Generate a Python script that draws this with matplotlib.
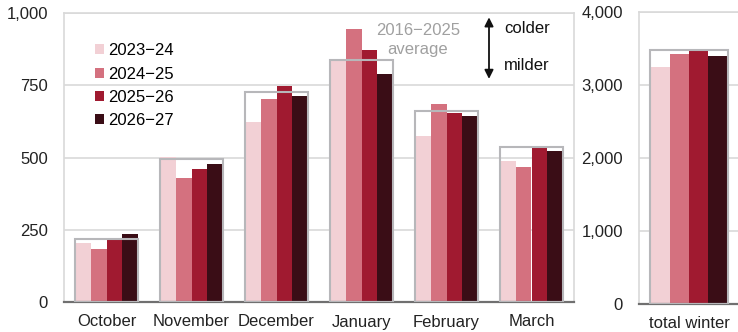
import matplotlib
matplotlib.use("Agg")
import matplotlib.pyplot as plt
import numpy as np

plt.rcParams['font.family'] = ['Liberation Sans', 'DejaVu Sans']

months = ["October", "November", "December", "January", "February", "March"]
seasons = ["2023\u221224", "2024\u221225", "2025\u221226", "2026\u221227"]
s2023 = [204, 503, 623, 836, 574, 488]
s2024 = [183, 428, 702, 945, 684, 468]
s2025 = [214, 460, 747, 871, 654, 532]
s2026 = [234, 476, 712, 789, 642, 524]
avg_monthly = [218, 494, 726, 836, 660, 537]
total_winter = [3242, 3425, 3461, 3397]
avg_total = 3479
left_ticks = [0, 250, 500, 750, 1000]
right_ticks = [0, 1000, 2000, 3000, 4000]

colors = ["#F2D0D5", "#D4717F", "#A01A30", "#3A0D16"]
box_color = "#B7B7BA"
grid_color = "#D9D9D9"
W, H = 738, 332

fig = plt.figure(figsize=(W / 100, H / 100), dpi=100)
ax = fig.add_axes([64 / W, (H - 302) / H, 510 / W, 289 / H])
ax2 = fig.add_axes([639 / W, (H - 304) / H, 100 / W, 292 / H])

fs = 12
bw = 0.183
x = np.arange(len(months))
series = [s2023, s2024, s2025, s2026]
for i, (vals, c) in enumerate(zip(series, colors)):
    ax.bar(x + (i - 1.5) * bw, vals, width=bw, color=c, zorder=2, label=seasons[i])
ax.bar(x, avg_monthly, width=4 * bw + 0.01, facecolor="none", edgecolor=box_color,
       linewidth=1.5, zorder=3)

ax.set_xlim(-0.5, len(months) - 0.5)
ax.set_ylim(0, 1000)
ax.set_yticks(left_ticks)
ax.set_yticklabels([f"{v:,}" for v in left_ticks])
ax.set_xticks(x)
ax.set_xticklabels(months)
ax.tick_params(axis='y', length=0, pad=11.5, labelsize=fs, colors="#222222")
ax.tick_params(axis='x', length=0, pad=9, labelsize=fs, colors="#222222")
ax.yaxis.grid(True, color=grid_color, linewidth=1.2, zorder=0)
ax.set_axisbelow(True)
for s in ["left", "top", "right"]:
    ax.spines[s].set_color(grid_color)
    ax.spines[s].set_linewidth(1.2)
ax.spines["bottom"].set_color("#707070")
ax.spines["bottom"].set_linewidth(1.6)

leg = ax.legend(loc="upper left", bbox_to_anchor=(0.06, 0.895), frameon=False,
                fontsize=fs, handlelength=0.55, handleheight=0.55, handletextpad=0.25,
                labelspacing=0.5, borderpad=0, borderaxespad=0)

ax.text(3.665, 938, "2016\u22122025", color="#A0A0A0", fontsize=fs, ha="center", va="center")
ax.text(3.665, 875, "average", color="#A0A0A0", fontsize=fs, ha="center", va="center")
ax.annotate("", xy=(4.5, 985), xytext=(4.5, 772),
            arrowprops=dict(arrowstyle="<|-|>", color="#111111", lw=1.3,
                            mutation_scale=13, shrinkA=0, shrinkB=0))
ax.text(4.68, 948, "colder", fontsize=fs, ha="left", va="center", color="#111111")
ax.text(4.68, 820, "milder", fontsize=fs, ha="left", va="center", color="#111111")

# total winter
for i, (v, c) in enumerate(zip(total_winter, colors)):
    ax2.bar([(i - 1.5) * 0.19], [v], width=0.19, color=c, zorder=2)
ax2.bar([0], [avg_total], width=0.78, facecolor="none", edgecolor=box_color,
        linewidth=1.5, zorder=3)
ax2.set_xlim(-0.5, 0.5)
ax2.set_ylim(0, 4000)
ax2.set_yticks(right_ticks)
ax2.set_yticklabels([f"{v:,}" for v in right_ticks])
ax2.set_xticks([0])
ax2.set_xticklabels(["total winter"])
ax2.tick_params(axis='y', length=0, pad=11.5, labelsize=fs, colors="#222222")
ax2.tick_params(axis='x', length=0, pad=9, labelsize=fs, colors="#222222")
ax2.yaxis.grid(True, color=grid_color, linewidth=1.2, zorder=0)
ax2.set_axisbelow(True)
ax2.spines["right"].set_visible(False)
for s in ["left", "top"]:
    ax2.spines[s].set_color(grid_color)
    ax2.spines[s].set_linewidth(1.2)
ax2.spines["bottom"].set_color("#707070")
ax2.spines["bottom"].set_linewidth(1.6)

fig.savefig("out.png", dpi=100)
